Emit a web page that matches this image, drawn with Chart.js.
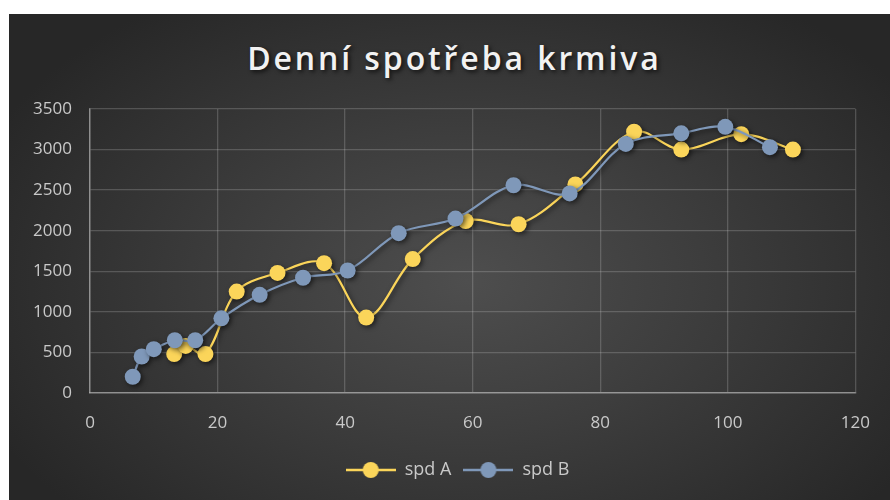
<!DOCTYPE html>
<html lang="cs">
<head>
<meta charset="UTF-8">
<title>Denní spotřeba krmiva</title>
<script src="https://cdn.jsdelivr.net/npm/chart.js"></script>
<style>
* { margin: 0; padding: 0; box-sizing: border-box; }
body { background: #fff; width: 890px; height: 500px; overflow: hidden; position: relative; }
#box {
    position: absolute; left: 9px; top: 14px; width: 881px; height: 486px;
    background: radial-gradient(ellipse 60% 70% at 52% 55%, #4e4e4e 0%, #3d3d3d 45%, #272727 100%);
}
#title {
    position: absolute; left: 10px; right: 0; top: 24px;
    text-align: center; color: #f2f2f2;
    font: 600 32px 'Open Sans', sans-serif; line-height: 40px; letter-spacing: 2.9px;
    text-shadow: 2px 2px 4px rgba(0,0,0,0.7);
}
canvas { position: absolute; left: 0; top: 0; }
</style>
</head>
<body>
<div id="box">
    <div id="title">Denní spotřeba krmiva</div>
    <canvas id="chart" width="881" height="486"></canvas>
</div>
<script>
// values
const xA = [13.2, 15.0, 18.1, 23.0, 29.4, 36.7, 43.3, 50.6, 58.9, 67.2, 76.1, 85.3, 92.7, 102.1, 110.2];
const yA = [480, 580, 480, 1250, 1480, 1600, 930, 1650, 2120, 2080, 2570, 3220, 3000, 3190, 3000];
const xB = [6.7, 8.1, 10.0, 13.3, 16.5, 20.6, 26.6, 33.4, 40.4, 48.4, 57.3, 66.4, 75.2, 84.0, 92.7, 99.6, 106.6];
const yB = [200, 450, 540, 650, 650, 920, 1210, 1420, 1510, 1970, 2150, 2560, 2460, 3070, 3200, 3280, 3030];
const seriesNames = ['spd A', 'spd B'];
const xTicks = [0, 20, 40, 60, 80, 100, 120];
const yTicks = [0, 500, 1000, 1500, 2000, 2500, 3000, 3500];

const colA = '#fbd55a';
const colB = '#7f98b9';
const txt = '#c9c9c9';
const grid = 'rgba(217,217,217,0.22)';

function pts(xs, ys) {
    return xs.map((x, i) => ({ x: x, y: ys[i] }));
}

// legend icon: short line with a dot, like the office legend
function legendIcon(color) {
    const c = document.createElement('canvas');
    c.width = 50; c.height = 18;
    const g = c.getContext('2d');
    g.strokeStyle = color; g.lineWidth = 2.5;
    g.beginPath(); g.moveTo(0, 9); g.lineTo(50, 9); g.stroke();
    g.fillStyle = color;
    g.beginPath(); g.arc(25, 9, 8, 0, Math.PI * 2); g.fill();
    return c;
}
const icons = [legendIcon(colA), legendIcon(colB)];

// soft drop shadow under lines and markers
const shadowPlugin = {
    id: 'shadow',
    beforeDatasetDraw(chart) {
        const ctx = chart.ctx;
        ctx.save();
        ctx.shadowColor = 'rgba(0,0,0,0.55)';
        ctx.shadowBlur = 5;
        ctx.shadowOffsetX = 2;
        ctx.shadowOffsetY = 2;
    },
    afterDatasetDraw(chart) {
        chart.ctx.restore();
    }
};

// legend in the original sits a bit right of the canvas centre
const legendShift = {
    id: 'legendShift',
    afterLayout(chart) {
        chart.legend.left += 24;
        chart.legend.right += 24;
    }
};

const font = { family: "'Open Sans', sans-serif", size: 17 };

new Chart(document.getElementById('chart'), {
    type: 'line',
    data: {
        datasets: [
            { label: seriesNames[0], data: pts(xA, yA), borderColor: colA, backgroundColor: colA,
              pointBackgroundColor: colA, pointBorderWidth: 0, pointRadius: 8, borderWidth: 2.2,
              tension: 0.35, order: 2 },
            { label: seriesNames[1], data: pts(xB, yB), borderColor: colB, backgroundColor: colB,
              pointBackgroundColor: colB, pointBorderWidth: 0, pointRadius: 8, borderWidth: 2.2,
              tension: 0.35, order: 1 }
        ]
    },
    options: {
        responsive: false,
        animation: false,
        devicePixelRatio: 1,
        layout: { padding: { left: 0, right: 32, top: 95, bottom: 11 } },
        plugins: {
            tooltip: { enabled: false },
            legend: {
                position: 'bottom',
                labels: {
                    color: txt, font: { family: "'Open Sans', sans-serif", size: 18 },
                    usePointStyle: true, pointStyleWidth: 50, padding: 12,
                    sort: (a, b) => a.datasetIndex - b.datasetIndex,
                    generateLabels(chart) {
                        const items = Chart.defaults.plugins.legend.labels.generateLabels(chart);
                        items.forEach(it => { it.pointStyle = icons[it.datasetIndex]; });
                        return items;
                    }
                }
            }
        },
        scales: {
            x: {
                type: 'linear', min: 0, max: 120,
                afterBuildTicks: s => { s.ticks = xTicks.map(v => ({ value: v })); },
                afterFit: s => { s.height = 56; },
                grid: { color: grid, drawTicks: false, lineWidth: 1.3 },
                border: { color: 'rgba(217,217,217,0.45)', width: 1.5 },
                ticks: { color: txt, font: font, padding: 20, maxRotation: 0 }
            },
            y: {
                min: 0, max: 3500,
                afterBuildTicks: s => { s.ticks = yTicks.map(v => ({ value: v })); },
                afterFit: s => { s.width = 81; },
                grid: { color: grid, drawTicks: false, lineWidth: 1.3 },
                border: { color: 'rgba(217,217,217,0.45)', width: 1.5 },
                ticks: { color: txt, font: font, padding: 18, callback: v => String(v) }
            }
        }
    },
    plugins: [shadowPlugin, legendShift]
});
</script>
</body>
</html>
